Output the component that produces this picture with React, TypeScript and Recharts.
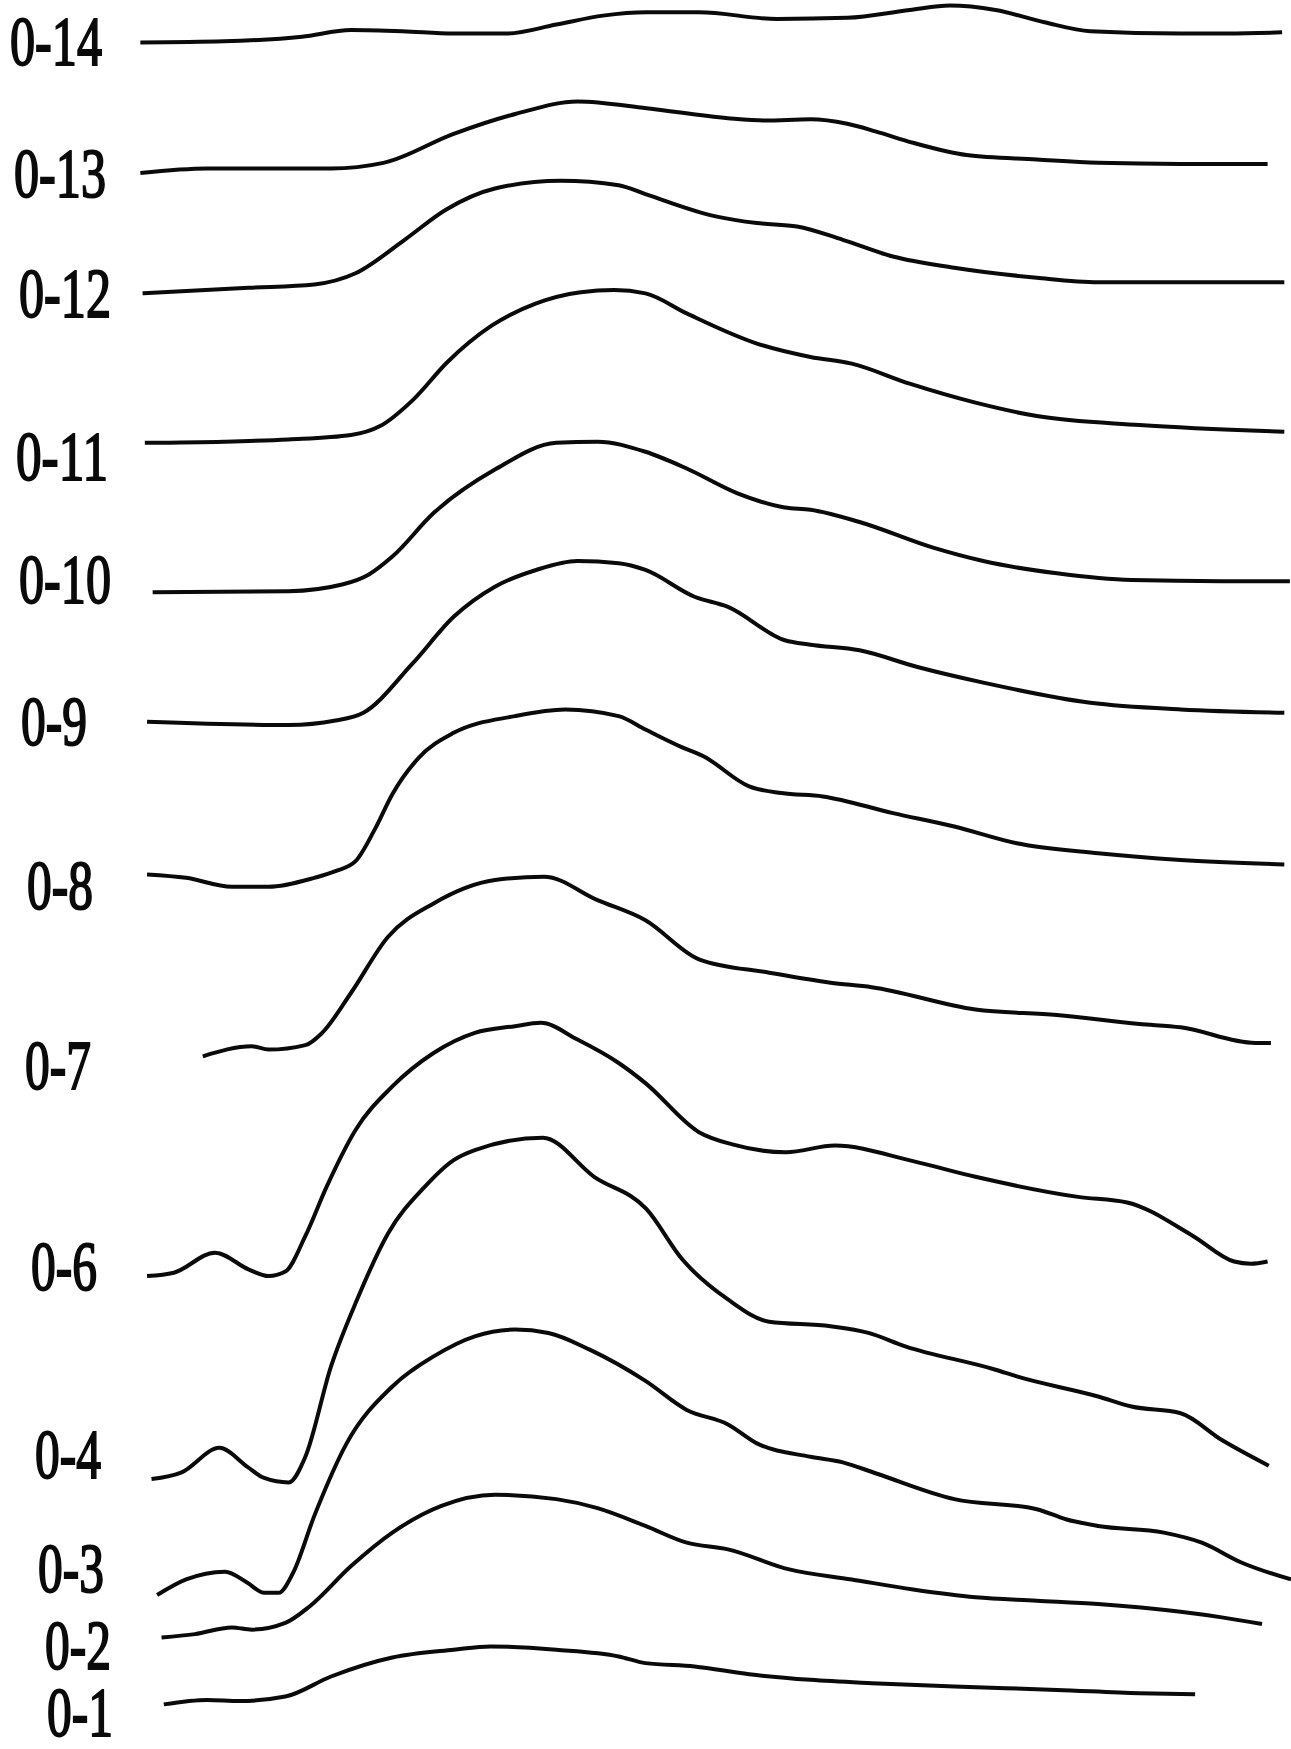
import React from 'react';
import { LineChart, Line, XAxis, YAxis } from 'recharts';

// Stacked potential traces, one per electrode pair, drawn on a shared time axis.
// Each trace is a list of [t, amplitude] samples; amplitude is measured upward
// from the trace's own baseline, and the baselines are stacked by traceOffsets.

const traceNames = ['0-14', '0-13', '0-12', '0-11', '0-10', '0-9', '0-8', '0-7', '0-6', '0-4', '0-3', '0-2', '0-1'];

const traceOffsets = [1530, 1413, 1305, 1171, 1037, 921, 784, 621, 424, 242, 138, 100, 40];

const trace14 = [[125, 0], [200, 1], [270, 5], [314, 11], [360, 10], [406, 8], [454, 8], [498, 16], [540, 24], [579, 27], [626, 27], [696, 21], [759, 22], [815, 29], [851, 33], [892, 29], [936, 18], [977, 10], [1058, 8], [1100, 8], [1149, 9]];
const trace13 = [[125, 0], [185, 4], [251, 4], [296, 4], [343, 9], [406, 35], [462, 53], [517, 64], [579, 58], [652, 49], [685, 47], [726, 48], [759, 44], [785, 37], [818, 27], [866, 16], [929, 12], [984, 9], [1058, 8], [1136, 8]];
const trace12 = [[127, 0], [222, 5], [281, 8], [318, 18], [362, 48], [399, 75], [443, 94], [502, 101], [554, 97], [578, 89], [641, 69], [678, 63], [714, 60], [755, 48], [800, 33], [855, 23], [929, 14], [984, 10], [1058, 10], [1151, 10]];
const trace11 = [[129, 0], [200, 1], [258, 3], [314, 7], [340, 15], [370, 39], [400, 72], [440, 105], [480, 125], [520, 135], [550, 137], [578, 134], [615, 116], [678, 89], [726, 77], [763, 71], [815, 53], [874, 36], [929, 24], [1021, 16], [1151, 10]];
const trace10 = [[136, 0], [258, 1], [306, 7], [330, 16], [351, 32], [388, 71], [443, 110], [498, 134], [535, 135], [578, 126], [615, 111], [660, 89], [703, 76], [726, 74], [770, 63], [836, 40], [881, 28], [947, 17], [1014, 11], [1095, 10], [1156, 10]];
const trace9 = [[131, 0], [258, -3], [300, 1], [325, 8], [369, 52], [406, 94], [443, 121], [480, 136], [517, 144], [554, 142], [578, 136], [622, 112], [652, 103], [703, 73], [726, 69], [770, 64], [822, 49], [881, 35], [977, 17], [1058, 11], [1151, 8]];
const trace8 = [[131, 0], [166, -3], [207, -11], [240, -11], [281, -3], [300, 3], [318, 12], [335, 40], [351, 72], [375, 105], [406, 127], [461, 142], [506, 148], [554, 142], [578, 130], [611, 114], [630, 106], [671, 79], [700, 73], [737, 70], [800, 55], [855, 43], [911, 28], [984, 19], [1058, 13], [1151, 9]];
const trace7 = [[181, 0], [225, 9], [240, 6], [273, 10], [288, 21], [314, 57], [347, 107], [388, 137], [443, 158], [487, 161], [535, 140], [578, 122], [626, 87], [689, 75], [744, 66], [781, 62], [874, 42], [947, 37], [1021, 29], [1058, 26], [1125, 12], [1139, 12]];
const trace6 = [[131, 0], [155, 3], [192, 21], [222, 6], [240, 0], [255, 4], [273, 36], [292, 80], [318, 131], [351, 170], [388, 200], [425, 218], [461, 224], [484, 227], [517, 212], [554, 191], [578, 173], [626, 129], [656, 118], [704, 111], [748, 117], [818, 103], [874, 89], [966, 71], [1010, 66], [1069, 36], [1106, 13], [1121, 11], [1136, 13]];
const trace4 = [[135, 0], [162, 6], [196, 28], [221, 11], [236, 1], [258, -3], [273, 20], [296, 101], [319, 160], [347, 220], [380, 262], [406, 286], [425, 295], [486, 306], [532, 271], [579, 242], [611, 197], [652, 161], [689, 141], [744, 137], [778, 131], [811, 119], [892, 98], [911, 92], [984, 74], [1014, 65], [1058, 59], [1095, 35], [1137, 12]];
const trace3 = [[140, 0], [166, 14], [201, 21], [221, 11], [236, 2], [249, 2], [262, 20], [281, 71], [310, 136], [351, 187], [388, 214], [425, 232], [461, 238], [491, 235], [528, 220], [578, 192], [615, 166], [652, 153], [678, 136], [726, 124], [755, 119], [785, 109], [855, 86], [929, 77], [955, 68], [984, 62], [1043, 56], [1077, 47], [1113, 29], [1157, 14]];
const trace2 = [[144, 0], [174, 3], [207, 9], [225, 7], [255, 13], [277, 28], [314, 64], [351, 94], [395, 118], [443, 128], [498, 124], [535, 116], [578, 100], [615, 85], [652, 79], [707, 61], [763, 52], [818, 43], [874, 36], [929, 33], [984, 30], [1058, 23], [1095, 18], [1131, 12]];
const trace1 = [[146, 0], [185, 4], [214, 3], [255, 7], [296, 25], [351, 42], [406, 49], [439, 52], [498, 49], [554, 43], [578, 37], [622, 34], [671, 27], [726, 22], [781, 19], [855, 16], [947, 13], [1021, 10], [1071, 9]];

const traces = [trace14, trace13, trace12, trace11, trace10, trace9, trace8, trace7, trace6, trace4, trace3, trace2, trace1];

// level at which each trace name is written
const labelLevels = [1531, 1413, 1305, 1159, 1049, 921, 774, 613, 433, 264, 162, 93, 33];

// layout
const WIDTH = 1291;
const HEIGHT = 1749;
const T_MAX = 1157;
const LEVEL_MAX = 1568;
const labelLeft = [10, 14, 19, 16, 19, 21, 27, 25, 31, 35, 38, 45, 47];
const FONT_SIZE = 70;
const INK = '#0a0a0a';

const series = traces.map((pts, i) =>
  pts.map(([t, amp]) => ({ t, v: traceOffsets[i] + amp }))
);

// picks the trace name whose level is closest to the tick value
const nearestLabel = (value: number) => {
  let best = 0;
  labelLevels.forEach((lv, i) => {
    if (Math.abs(lv - value) < Math.abs(labelLevels[best] - value)) best = i;
  });
  return best;
};

const renderLabelTick = (props: any) => {
  const { y, payload } = props;
  const i = nearestLabel(Number(payload.value));
  const name = traceNames[i];
  return (
    <text
      key={name}
      x={labelLeft[i]}
      y={y + FONT_SIZE * 0.34}
      fontFamily='"Liberation Serif", "DejaVu Serif", serif'
      fontSize={FONT_SIZE}
      fill={INK}
      stroke={INK}
      strokeWidth={2}
      textLength={name.length === 4 ? 92 : 66}
      lengthAdjust="spacingAndGlyphs"
      textAnchor="start"
    >
      {name}
    </text>
  );
};

export default function App() {
  return (
    <div style={{ width: WIDTH, height: HEIGHT, background: '#fff' }}>
      <style>{'body{margin:0;background:#fff}'}</style>
      <LineChart
        width={WIDTH}
        height={HEIGHT}
        margin={{ top: 0, right: 0, bottom: 0, left: 0 }}
      >
        <XAxis type="number" dataKey="t" domain={[0, T_MAX]} allowDataOverflow hide />
        <YAxis
          type="number"
          domain={[0, LEVEL_MAX]}
          allowDataOverflow
          width={1}
          ticks={labelLevels}
          interval={0}
          axisLine={false}
          tickLine={false}
          tick={renderLabelTick}
        />
        {series.map((data, i) => (
          <Line
            key={traceNames[i]}
            data={data}
            dataKey="v"
            name={traceNames[i]}
            type="monotone"
            stroke={INK}
            strokeWidth={4}
            dot={false}
            activeDot={false}
            isAnimationActive={false}
          />
        ))}
      </LineChart>
    </div>
  );
}
